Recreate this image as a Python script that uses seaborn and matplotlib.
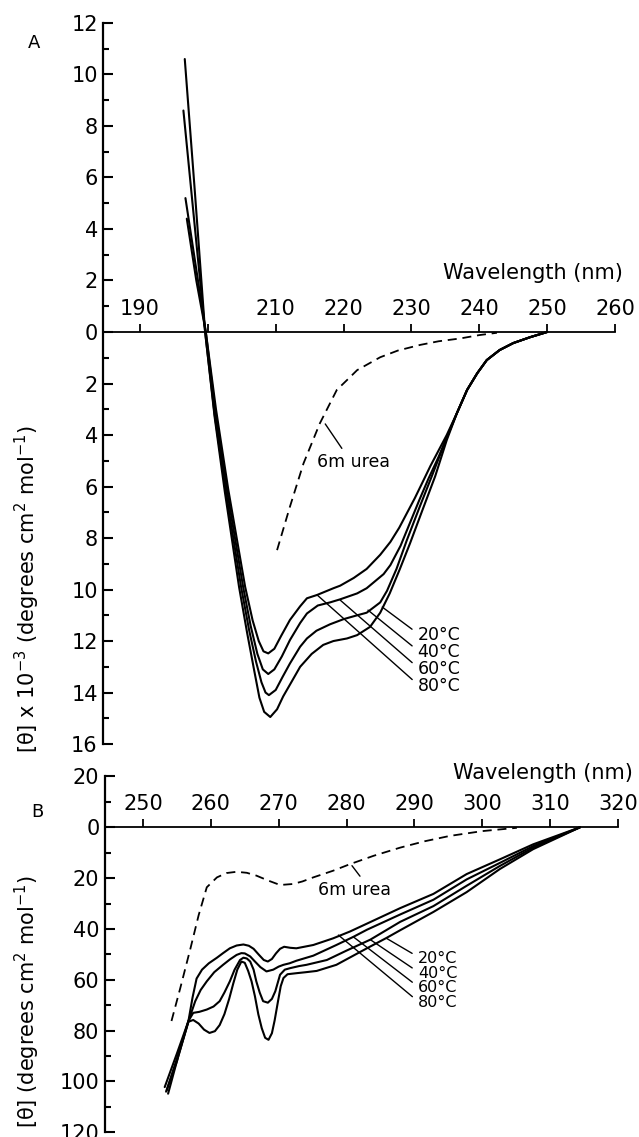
import numpy as np
import pandas as pd
import matplotlib
matplotlib.use("Agg")
import matplotlib.pyplot as plt
from matplotlib.ticker import MultipleLocator, FuncFormatter
import seaborn as sns

# ---------------- Panel A (far UV), [theta] x 10^-3 ----------------
a_t20_x = [196.6, 198.1, 199.6, 201.0, 202.5, 204.6, 205.8, 206.8, 207.6, 208.3, 209.2, 210.2, 211.1, 212.3,
           213.6, 215.3, 217.0, 218.5, 220.5, 222.0, 223.9, 225.4, 226.8, 228.3, 229.8, 231.5, 233.5, 235.2,
           236.7, 238.2, 239.7, 241.1, 243.0, 245.0, 247.5, 250.0]
a_t20_y = [10.6, 5.4, 0.0, -3.3, -6.2, -9.9, -11.7, -13.1, -14.2, -14.75, -14.95, -14.65, -14.15, -13.6,
           -13.0, -12.5, -12.15, -12.0, -11.9, -11.77, -11.45, -10.9, -10.15, -9.2, -8.2, -7.0, -5.6, -4.2,
           -3.15, -2.25, -1.6, -1.09, -0.7, -0.43, -0.2, 0.0]

a_t40_x = [196.4, 198.0, 199.6, 201.0, 202.6, 204.9, 206.1, 207.1, 207.9, 208.5, 209.0, 210.0, 211.0, 212.1,
           213.6, 214.6, 216.0, 218.0, 220.0, 222.0, 223.4, 225.4, 226.4, 227.8, 229.3, 231.2, 233.0, 235.2,
           236.7, 238.2, 239.7, 241.1, 243.0, 245.0, 247.5, 250.0]
a_t40_y = [8.6, 4.3, 0.0, -3.2, -6.1, -9.9, -11.6, -12.8, -13.6, -14.0, -14.1, -13.9, -13.4, -12.87,
           -12.22, -11.9, -11.6, -11.35, -11.15, -11.0, -10.9, -10.5, -10.05, -9.2, -8.1, -6.8, -5.6, -4.1,
           -3.15, -2.25, -1.6, -1.09, -0.7, -0.43, -0.2, 0.0]

a_t60_x = [196.7, 198.2, 199.7, 201.1, 202.8, 205.2, 206.3, 207.3, 208.1, 208.9, 209.8, 210.9, 212.1, 213.6,
           214.6, 216.2, 218.0, 219.5, 222.0, 223.4, 225.9, 226.9, 228.4, 229.8, 231.2, 232.5, 234.0, 235.2,
           236.7, 238.2, 239.7, 241.1, 243.0, 245.0, 247.5, 250.0]
a_t60_y = [5.2, 2.6, 0.0, -3.1, -6.1, -9.9, -11.4, -12.5, -13.1, -13.28, -13.1, -12.6, -11.96, -11.3,
           -10.93, -10.62, -10.5, -10.38, -10.15, -9.95, -9.4, -9.05, -8.3, -7.4, -6.5, -5.7, -4.85, -4.1,
           -3.15, -2.25, -1.6, -1.09, -0.7, -0.43, -0.2, 0.0]

a_t80_x = [196.9, 198.3, 199.7, 201.2, 203.0, 205.5, 206.6, 207.5, 208.2, 208.9, 209.8, 210.8, 212.1, 213.6,
           214.6, 216.1, 218.5, 219.5, 221.5, 223.4, 225.4, 226.9, 228.2, 229.3, 230.5, 231.7, 232.8, 234.0,
           235.2, 236.7, 238.2, 239.7, 241.1, 243.0, 245.0, 247.5, 250.0]
a_t80_y = [4.4, 2.0, 0.0, -3.0, -6.1, -9.9, -11.2, -12.0, -12.4, -12.48, -12.3, -11.8, -11.18, -10.65,
           -10.34, -10.21, -9.95, -9.85, -9.55, -9.2, -8.65, -8.15, -7.6, -7.05, -6.45, -5.8, -5.2, -4.6,
           -4.0, -3.15, -2.25, -1.6, -1.09, -0.7, -0.43, -0.2, 0.0]

a_urea_x = [210.2, 212.1, 214.1, 216.5, 219.0, 221.0, 222.0, 225.4, 228.0, 231.3, 234.0, 237.2, 240.0, 242.6]
a_urea_y = [-8.47, -6.78, -5.1, -3.55, -2.25, -1.74, -1.48, -0.98, -0.72, -0.5, -0.36, -0.25, -0.12, -0.03]

a_xticks = [190, 200, 210, 220, 230, 240, 250, 260]
a_xticklabels = ["190", "", "210", "220", "230", "240", "250", "260"]

# ---------------- Panel B (near UV), [theta] ----------------
b_t20_x = [253.7, 255.2, 256.7, 257.4, 258.2, 259.0, 259.8, 260.6, 261.3, 262.0, 262.7, 263.3, 263.9, 264.5,
           265.0, 265.5, 266.0, 266.5, 267.0, 267.5, 268.0, 268.5, 269.0, 269.4, 269.9, 270.3, 270.7, 271.3,
           272.6, 274.0, 275.6, 278.5, 283.0, 285.9, 287.9, 292.8, 297.7, 302.6, 307.5, 314.4]
b_t20_y = [-104.8, -90.0, -76.5, -75.8, -77.2, -79.6, -80.9, -80.2, -77.8, -73.5, -67.5, -61.5, -56.0, -52.8,
           -53.3, -56.5, -60.6, -66.5, -73.6, -79.0, -82.8, -83.6, -81.0, -76.0, -68.4, -62.5, -59.3, -57.8,
           -57.4, -57.0, -56.5, -54.1, -47.6, -43.5, -40.5, -33.3, -25.5, -16.4, -8.6, 0.0]

b_t40_x = [253.4, 255.0, 256.7, 257.4, 258.3, 259.4, 260.4, 261.3, 262.0, 262.8, 263.5, 264.3, 264.8, 265.3,
           265.8, 266.3, 266.7, 267.2, 267.7, 268.4, 269.0, 269.5, 270.2, 270.9, 271.7, 273.0, 274.1, 277.1,
           280.0, 283.5, 287.9, 292.8, 297.7, 302.6, 307.5, 314.4]
b_t40_y = [-104.0, -92.0, -76.2, -73.0, -72.6, -71.7, -70.5, -68.4, -65.0, -60.6, -56.0, -52.2, -51.3, -51.6,
           -52.8, -56.0, -60.6, -65.0, -68.4, -69.0, -67.5, -64.5, -58.0, -56.0, -55.4, -54.6, -54.1, -52.2,
           -48.5, -44.2, -37.2, -31.0, -23.0, -15.2, -8.0, 0.0]

b_t60_x = [253.5, 255.0, 256.7, 257.7, 258.5, 259.4, 260.5, 261.8, 262.8, 263.8, 264.5, 265.0, 265.8, 266.5,
           267.3, 268.2, 269.2, 270.0, 270.7, 271.6, 272.6, 275.1, 278.5, 281.0, 283.0, 287.9, 292.8, 297.7,
           302.6, 307.5, 314.4]
b_t60_y = [-103.5, -91.0, -76.2, -68.4, -64.0, -60.6, -57.0, -54.1, -52.0, -50.2, -49.5, -49.6, -50.8, -52.8,
           -55.0, -56.7, -56.0, -54.8, -54.1, -53.5, -52.5, -50.5, -46.3, -43.1, -40.3, -34.3, -28.5, -20.5,
           -14.0, -7.4, 0.0]

b_t80_x = [253.2, 255.0, 256.7, 257.3, 257.9, 258.7, 259.7, 260.9, 261.8, 262.8, 263.8, 264.8, 265.6, 266.3,
           267.1, 267.8, 268.4, 269.0, 269.6, 270.2, 270.8, 271.7, 272.6, 275.1, 278.0, 280.5, 283.0, 287.9,
           292.8, 297.7, 302.6, 307.5, 314.4]
b_t80_y = [-102.2, -89.0, -76.2, -67.0, -59.5, -56.0, -53.5, -51.3, -49.5, -47.6, -46.5, -46.1, -46.6, -47.8,
           -50.2, -52.2, -52.8, -51.8, -49.6, -47.8, -47.0, -47.4, -47.6, -46.3, -43.7, -41.0, -37.9, -31.8,
           -26.2, -18.4, -12.6, -6.7, 0.0]

b_urea_x = [254.2, 255.5, 257.0, 258.2, 259.4, 260.9, 262.3, 263.8, 265.3, 266.7, 268.5, 270.2, 272.1, 273.5,
            275.1, 278.0, 280.5, 284.0, 287.9, 291.5, 295.2, 300.0, 305.1]
b_urea_y = [-76.2, -63.2, -47.6, -34.6, -23.6, -19.7, -18.0, -17.5, -17.9, -19.0, -21.0, -22.7, -22.3, -21.3,
            -19.7, -17.1, -14.5, -11.2, -8.0, -5.5, -3.4, -1.5, -0.2]

b_xticks = [250, 260, 270, 280, 290, 300, 310, 320]
b_xticklabels = ["250", "260", "270", "280", "290", "300", "310", "320"]

temp_labels = ["20°C", "40°C", "60°C", "80°C"]

# ---------------- drawing ----------------
sns.set_style("white")
plt.rcParams["font.family"] = ["DejaVu Sans"]
plt.rcParams["mathtext.default"] = "regular"
plt.rcParams["text.color"] = "black"
plt.rcParams["axes.labelcolor"] = "black"
plt.rcParams["xtick.color"] = "black"
plt.rcParams["ytick.color"] = "black"

fig = plt.figure(figsize=(6.39, 11.37), dpi=100)
axA = fig.add_axes([0.1617, 0.3456, 0.8008, 0.6342])
axB = fig.add_axes([0.1643, 0.0041, 0.8028, 0.3130])


def draw(ax, x, y, dashed=False):
    if dashed:
        sns.lineplot(x=x, y=y, ax=ax, color="black", linewidth=1.3, sort=False,
                     estimator=None, linestyle=(0, (5, 3.2)))
    else:
        sns.lineplot(x=x, y=y, ax=ax, color="black", linewidth=1.5, sort=False,
                     estimator=None)


def style(ax, xlim, ylim, xticks, xlabels, ymaj, ymin):
    ax.set_xlim(xlim)
    ax.set_ylim(ylim)
    ax.set_xlabel("")
    ax.set_ylabel("")
    for s in ["right", "bottom"]:
        ax.spines[s].set_visible(False)
    ax.spines["top"].set_position(("data", 0))
    ax.spines["top"].set_bounds(xlim[0], xticks[-1])
    ax.spines["top"].set_linewidth(1.3)
    ax.spines["left"].set_linewidth(1.6)
    ax.spines["top"].set_color("black")
    ax.spines["left"].set_color("black")
    ax.xaxis.set_ticks_position("top")
    ax.set_xticks(xticks)
    ax.set_xticklabels(xlabels)
    ax.tick_params(axis="x", direction="out", length=5.8, width=1.3, pad=3.5,
                   labelsize=15, colors="black")
    ax.yaxis.set_major_locator(MultipleLocator(ymaj))
    ax.yaxis.set_minor_locator(MultipleLocator(ymin))
    ax.yaxis.set_major_formatter(FuncFormatter(lambda v, p: f"{abs(v):g}"))
    ax.tick_params(axis="y", which="major", direction="in", length=7.2, width=1.5,
                   pad=4, labelsize=15, colors="black", left=True)
    ax.tick_params(axis="y", which="minor", direction="in", length=4.3, width=1.5,
                   left=True, colors="black")


# Panel A
for xs, ys in [(a_t20_x, a_t20_y), (a_t40_x, a_t40_y), (a_t60_x, a_t60_y), (a_t80_x, a_t80_y)]:
    draw(axA, xs, ys)
draw(axA, a_urea_x, a_urea_y, dashed=True)
style(axA, (184.6, 260), (-16, 12), a_xticks, a_xticklabels, 2, 1)

axA.text(261.2, 2.29, "Wavelength (nm)", ha="right", va="center", fontsize=15, color="black")

a_anchor = [(225.7, -10.68), (223.6, -10.80), (219.5, -10.41), (216.1, -10.21)]
a_label_y = [-11.77, -12.43, -13.09, -13.75]
for lab, xy, ly in zip(temp_labels, a_anchor, a_label_y):
    axA.annotate(lab, xy=xy, xytext=(230.9, ly), ha="left", va="center", fontsize=12.5,
                 color="black",
                 arrowprops=dict(arrowstyle="-", lw=1.0, color="black", shrinkA=2, shrinkB=0,
                                 relpos=(0.0, 0.6)))
axA.annotate("6m urea", xy=(217.3, -3.57), xytext=(216.1, -5.04), ha="left", va="center",
             fontsize=12.5, color="black",
             arrowprops=dict(arrowstyle="-", lw=1.0, color="black", shrinkA=1, shrinkB=0,
                             relpos=(0.38, 1.0)))

# Panel B
for xs, ys in [(b_t20_x, b_t20_y), (b_t40_x, b_t40_y), (b_t60_x, b_t60_y), (b_t80_x, b_t80_y)]:
    draw(axB, xs, ys)
draw(axB, b_urea_x, b_urea_y, dashed=True)
style(axB, (244.4, 320), (-120, 20), b_xticks, b_xticklabels, 20, 10)

axB.text(322.2, 21.2, "Wavelength (nm)", ha="right", va="center", fontsize=15, color="black")

b_anchor = [(285.9, -43.7), (283.5, -44.2), (281.0, -43.1), (278.8, -42.4)]
b_label_y = [-51.5, -57.4, -63.2, -69.0]
for lab, xy, ly in zip(temp_labels, b_anchor, b_label_y):
    axB.annotate(lab, xy=xy, xytext=(290.5, ly), ha="left", va="center", fontsize=11.5,
                 color="black",
                 arrowprops=dict(arrowstyle="-", lw=1.0, color="black", shrinkA=2, shrinkB=0,
                                 relpos=(0.0, 0.6)))
axB.annotate("6m urea", xy=(280.8, -15.1), xytext=(275.8, -24.5), ha="left", va="center",
             fontsize=12.5, color="black",
             arrowprops=dict(arrowstyle="-", lw=1.0, color="black", shrinkA=1, shrinkB=0,
                             relpos=(0.62, 1.0)))

# panel letters and y labels
fig.text(34 / 639, 1 - 43 / 1137, "A", ha="center", va="center", fontsize=13, color="black")
fig.text(37.5 / 639, 1 - 812 / 1137, "B", ha="center", va="center", fontsize=13, color="black")
fig.text(27 / 639, 1 - 589 / 1137, r"[θ] x 10$^{-3}$ (degrees cm$^{2}$ mol$^{-1}$)",
         rotation=90, ha="center", va="center", fontsize=15, color="black")
fig.text(27 / 639, 1 - 1001 / 1137, r"[θ] (degrees cm$^{2}$ mol$^{-1}$)",
         rotation=90, ha="center", va="center", fontsize=15, color="black")

fig.savefig("out.png", dpi=100, facecolor="white")
